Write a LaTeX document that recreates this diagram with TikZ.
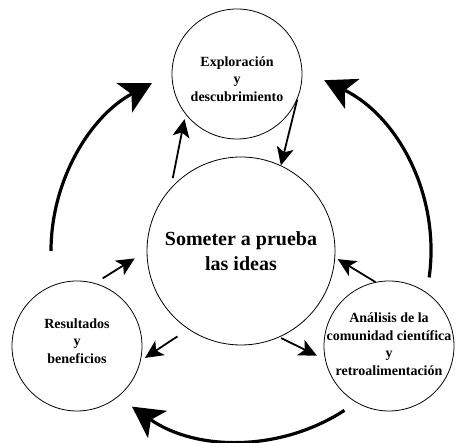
\documentclass[tikz,border=0pt]{standalone}
\usepackage{fontspec}
\setmainfont{Liberation Serif}
\usetikzlibrary{arrows.meta}
\tikzset{
  >={Stealth[length=18pt, width=17pt, inset=4.5pt]},
  link/.style={->, line width=1.8pt},
  cycle/.style={-{Stealth[length=31pt, width=33pt, inset=8pt]}, line width=3.2pt},
  ring/.style={draw, circle, line width=0.8pt, inner sep=0pt, minimum size=130pt},
  ringtext/.style={align=center, inner sep=0pt, font=\fontsize{14}{17.5}\selectfont\bfseries},
}

\begin{document}
\begin{tikzpicture}[x=1pt, y=1pt]
  \useasboundingbox (0,0) rectangle (456,443);

  \node[ring, minimum size=188pt, align=center, font=\fontsize{20}{25}\selectfont\bfseries] (ctr) at (241,192) {Someter a prueba\\las ideas};
  \node[ring] (explor) at (237,369) {};
  \node[ring] (result) at (77,97) {};
  \node[ring] (analisis) at (389,97) {};

  \node[ringtext] (explortext) at ([yshift=-5pt]explor) {Exploración\\y\\descubrimiento};
  \node[ringtext] (resulttext) at ([yshift=5pt]result) {Resultados\\y\\beneficios};
  \node[ringtext] (analisistext) at ([yshift=2pt]analisis) {Análisis de la\\comunidad científica\\y\\retroalimentación};

  % flechas cortas
  \draw[link, shorten <=10pt, shorten >=5pt] (ctr.138) -- (explor.218);
  \draw[link] (explor.337) -- (ctr.65);
  \draw[link, shorten <=9pt, shorten >=14pt] (result.74) -- (ctr.180);
  \draw[link, shorten <=13pt, shorten >=5pt] (ctr.236) -- (result.347);
  \draw[link, shorten <=2pt, shorten >=9pt] (ctr.294) -- (analisis.192);
  \draw[link, shorten >=3pt] (analisis.102) -- (ctr.356);

  % ciclo exterior
  \draw[cycle] ([shift={(180:190)}]ctr.center) arc[start angle=180, end angle=118, radius=190];
  \draw[cycle] ([shift={(-8:190)}]ctr.center) arc[start angle=-8, end angle=64, radius=190];
  \draw[cycle] ([shift={(-57:190)}]ctr.center) arc[start angle=-57, end angle=-125, radius=190];
\end{tikzpicture}
\end{document}
